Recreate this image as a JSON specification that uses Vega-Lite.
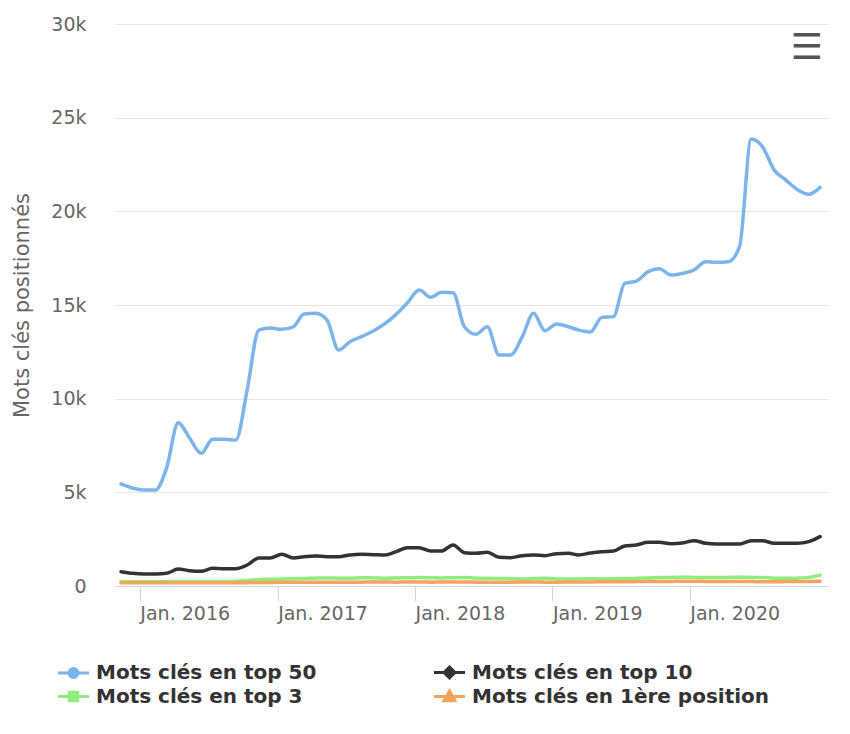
{
  "$schema": "https://vega.github.io/schema/vega-lite/v6.json",
  "width": 713,
  "height": 562,
  "autosize": {"type": "none"},
  "padding": {"left": 115, "top": 24, "right": 22, "bottom": 148},
  "background": "white",
  "config": {
    "view": {"stroke": null},
    "font": "DejaVu Sans"
  },
  "title": {
    "text": "☰",
    "anchor": "end",
    "frame": "group",
    "orient": "top",
    "offset": -52,
    "dx": -5,
    "fontSize": 36,
    "fontWeight": "bold",
    "color": "#555555",
    "font": "DejaVu Sans"
  },
  "data": {
    "values": [
      {"date": "2015-11-12", "top50": 5450, "top10": 765, "top3": 230, "first": 170},
      {"date": "2015-12-12", "top50": 5230, "top10": 676, "top3": 230, "first": 170},
      {"date": "2016-01-12", "top50": 5120, "top10": 640, "top3": 230, "first": 170},
      {"date": "2016-02-12", "top50": 5130, "top10": 640, "top3": 225, "first": 170},
      {"date": "2016-03-12", "top50": 6300, "top10": 676, "top3": 230, "first": 170},
      {"date": "2016-04-12", "top50": 8720, "top10": 907, "top3": 240, "first": 170},
      {"date": "2016-05-12", "top50": 7900, "top10": 818, "top3": 240, "first": 170},
      {"date": "2016-06-12", "top50": 7080, "top10": 783, "top3": 235, "first": 170},
      {"date": "2016-07-12", "top50": 7830, "top10": 943, "top3": 240, "first": 170},
      {"date": "2016-08-12", "top50": 7830, "top10": 925, "top3": 240, "first": 170},
      {"date": "2016-09-12", "top50": 7790, "top10": 925, "top3": 250, "first": 170},
      {"date": "2016-10-12", "top50": 10460, "top10": 1120, "top3": 300, "first": 180},
      {"date": "2016-11-12", "top50": 13660, "top10": 1495, "top3": 340, "first": 185},
      {"date": "2016-12-12", "top50": 13770, "top10": 1495, "top3": 360, "first": 190},
      {"date": "2017-01-12", "top50": 13700, "top10": 1690, "top3": 380, "first": 195},
      {"date": "2017-02-12", "top50": 13840, "top10": 1495, "top3": 390, "first": 200},
      {"date": "2017-03-12", "top50": 14520, "top10": 1566, "top3": 400, "first": 200},
      {"date": "2017-04-12", "top50": 14560, "top10": 1601, "top3": 420, "first": 205},
      {"date": "2017-05-12", "top50": 14200, "top10": 1566, "top3": 430, "first": 205},
      {"date": "2017-06-12", "top50": 12600, "top10": 1566, "top3": 420, "first": 200},
      {"date": "2017-07-12", "top50": 13040, "top10": 1655, "top3": 420, "first": 200},
      {"date": "2017-08-12", "top50": 13310, "top10": 1690, "top3": 440, "first": 205},
      {"date": "2017-09-12", "top50": 13610, "top10": 1672, "top3": 430, "first": 210},
      {"date": "2017-10-12", "top50": 13990, "top10": 1655, "top3": 420, "first": 210},
      {"date": "2017-11-12", "top50": 14500, "top10": 1833, "top3": 430, "first": 205},
      {"date": "2017-12-12", "top50": 15120, "top10": 2047, "top3": 440, "first": 210},
      {"date": "2018-01-12", "top50": 15800, "top10": 2047, "top3": 450, "first": 210},
      {"date": "2018-02-12", "top50": 15410, "top10": 1868, "top3": 440, "first": 205},
      {"date": "2018-03-12", "top50": 15680, "top10": 1868, "top3": 430, "first": 210},
      {"date": "2018-04-12", "top50": 15660, "top10": 2189, "top3": 440, "first": 210},
      {"date": "2018-05-12", "top50": 13840, "top10": 1779, "top3": 450, "first": 210},
      {"date": "2018-06-12", "top50": 13440, "top10": 1744, "top3": 420, "first": 205},
      {"date": "2018-07-12", "top50": 13840, "top10": 1797, "top3": 410, "first": 200},
      {"date": "2018-08-12", "top50": 12330, "top10": 1530, "top3": 400, "first": 200},
      {"date": "2018-09-12", "top50": 12330, "top10": 1512, "top3": 390, "first": 205},
      {"date": "2018-10-12", "top50": 13270, "top10": 1619, "top3": 380, "first": 210},
      {"date": "2018-11-12", "top50": 14560, "top10": 1655, "top3": 400, "first": 210},
      {"date": "2018-12-12", "top50": 13630, "top10": 1619, "top3": 410, "first": 205},
      {"date": "2019-01-12", "top50": 13990, "top10": 1726, "top3": 380, "first": 205},
      {"date": "2019-02-12", "top50": 13840, "top10": 1744, "top3": 370, "first": 210},
      {"date": "2019-03-12", "top50": 13660, "top10": 1655, "top3": 380, "first": 215},
      {"date": "2019-04-12", "top50": 13560, "top10": 1762, "top3": 390, "first": 220},
      {"date": "2019-05-12", "top50": 14340, "top10": 1833, "top3": 380, "first": 225},
      {"date": "2019-06-12", "top50": 14380, "top10": 1868, "top3": 390, "first": 230},
      {"date": "2019-07-12", "top50": 16160, "top10": 2135, "top3": 400, "first": 230},
      {"date": "2019-08-12", "top50": 16280, "top10": 2189, "top3": 410, "first": 235},
      {"date": "2019-09-12", "top50": 16780, "top10": 2331, "top3": 430, "first": 240},
      {"date": "2019-10-12", "top50": 16940, "top10": 2331, "top3": 450, "first": 240},
      {"date": "2019-11-12", "top50": 16600, "top10": 2260, "top3": 460, "first": 245},
      {"date": "2019-12-12", "top50": 16690, "top10": 2295, "top3": 470, "first": 250},
      {"date": "2020-01-12", "top50": 16870, "top10": 2420, "top3": 460, "first": 250},
      {"date": "2020-02-12", "top50": 17310, "top10": 2278, "top3": 450, "first": 245},
      {"date": "2020-03-12", "top50": 17280, "top10": 2242, "top3": 450, "first": 240},
      {"date": "2020-04-12", "top50": 17310, "top10": 2242, "top3": 460, "first": 240},
      {"date": "2020-05-12", "top50": 18110, "top10": 2242, "top3": 470, "first": 235},
      {"date": "2020-06-12", "top50": 23860, "top10": 2420, "top3": 460, "first": 235},
      {"date": "2020-07-12", "top50": 23450, "top10": 2420, "top3": 450, "first": 230},
      {"date": "2020-08-12", "top50": 22210, "top10": 2278, "top3": 420, "first": 230},
      {"date": "2020-09-12", "top50": 21670, "top10": 2278, "top3": 410, "first": 235},
      {"date": "2020-10-12", "top50": 21170, "top10": 2278, "top3": 420, "first": 240},
      {"date": "2020-11-12", "top50": 20910, "top10": 2367, "top3": 460, "first": 245},
      {"date": "2020-12-12", "top50": 21280, "top10": 2633, "top3": 580, "first": 250}
    ]
  },
  "transform": [
    {"fold": ["top50", "top10", "top3", "first"], "as": ["serie", "valeur"]}
  ],
  "mark": {"type": "line", "interpolate": "monotone", "strokeWidth": 3.5, "strokeCap": "round", "strokeJoin": "round"},
  "encoding": {
    "x": {
      "field": "date",
      "type": "temporal",
      "scale": {"type": "utc", "domain": [{"year": 2015, "month": 10, "date": 27, "utc": true}, {"year": 2021, "month": 1, "date": 2, "utc": true}]},
      "axis": {
        "title": null,
        "grid": false,
        "values": [
          {"year": 2016, "month": 1, "date": 1, "utc": true},
          {"year": 2017, "month": 1, "date": 1, "utc": true},
          {"year": 2018, "month": 1, "date": 1, "utc": true},
          {"year": 2019, "month": 1, "date": 1, "utc": true},
          {"year": 2020, "month": 1, "date": 1, "utc": true}
        ],
        "labelExpr": "'Jan. ' + utcFormat(datum.value, '%Y')",
        "labelAlign": "left",
        "labelBaseline": "top",
        "labelPadding": 3,
        "labelFlush": false,
        "labelOverlap": false,
        "labelFont": "DejaVu Sans",
        "labelFontSize": 19,
        "labelColor": "#666666",
        "domainColor": "#ccd6eb",
        "domainWidth": 1,
        "tickColor": "#ccd6eb",
        "tickSize": 15,
        "tickWidth": 1
      }
    },
    "y": {
      "field": "valeur",
      "type": "quantitative",
      "scale": {"domain": [0, 30000], "nice": false},
      "axis": {
        "title": "Mots clés positionnés",
        "titleFont": "DejaVu Sans",
        "titleFontSize": 21,
        "titleFontWeight": "normal",
        "titleColor": "#666666",
        "titlePadding": 18,
        "values": [0, 5000, 10000, 15000, 20000, 25000, 30000],
        "labelExpr": "datum.value == 0 ? '0' : (datum.value / 1000) + 'k'",
        "labelFont": "DejaVu Sans",
        "labelFontSize": 19,
        "labelColor": "#666666",
        "labelPadding": 29,
        "domain": false,
        "ticks": false,
        "grid": true,
        "gridColor": "#e6e6e6",
        "gridWidth": 1
      }
    },
    "color": {
      "field": "serie",
      "type": "nominal",
      "sort": ["top50", "top10", "top3", "first"],
      "scale": {"domain": ["top50", "top10", "top3", "first"], "range": ["#7cb5ec", "#333333", "#90ed7d", "#f7a35c"]},
      "legend": {
        "title": null,
        "orient": "none",
        "legendX": -53,
        "legendY": 637,
        "direction": "horizontal",
        "columns": 2,
        "columnPadding": 111,
        "rowPadding": 1,
        "padding": 0,
        "symbolSize": 400,
        "symbolStrokeWidth": 3,
        "labelOffset": 11,
        "labelFont": "DejaVu Sans",
        "labelFontSize": 20,
        "labelFontWeight": "bold",
        "labelColor": "#333333",
        "labelLimit": 400,
        "labelExpr": "datum.value == 'top50' ? 'Mots clés en top 50' : datum.value == 'top10' ? 'Mots clés en top 10' : datum.value == 'top3' ? 'Mots clés en top 3' : 'Mots clés en 1ère position'",
        "encode": {
          "symbols": {
            "update": {
              "shape": {"signal": "datum.value == 'top50' ? 'M-1.55,0L1.55,0M-0.45,0A0.45,0.45 0 1,1 0.45,0A0.45,0.45 0 1,1 -0.45,0Z' : datum.value == 'top10' ? 'M-1.55,0L1.55,0M0,-0.55L0.55,0L0,0.55L-0.55,0Z' : datum.value == 'top3' ? 'M-1.55,0L1.55,0M-0.42,-0.42L0.42,-0.42L0.42,0.42L-0.42,0.42Z' : 'M-1.55,0L1.55,0M0,-0.55L0.55,0.42L-0.55,0.42Z'"},
              "fill": {"signal": "scale('color', datum.value)"},
              "stroke": {"signal": "scale('color', datum.value)"},
              "strokeWidth": {"value": 3},
              "opacity": {"value": 1},
              "fillOpacity": {"value": 1}
            }
          }
        }
      }
    }
  }
}
